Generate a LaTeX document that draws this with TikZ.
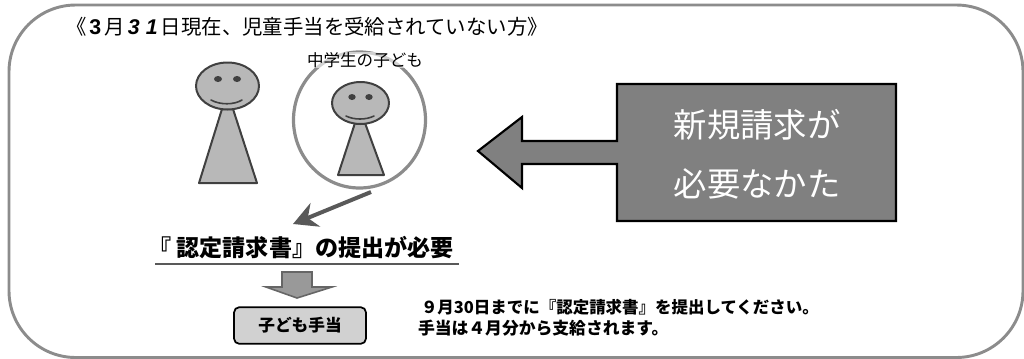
\documentclass[tikz,border=0pt]{standalone}
\usepackage{fontspec}
\setmainfont{Noto Sans CJK JP}
\newfontfamily\latinbi{Liberation Sans}
\usetikzlibrary{arrows.meta,shapes.geometric}
\newcommand{\wide}[1]{\makebox[13.5pt][c]{\latinbi\bfseries\itshape\fontsize{16}{16}\selectfont #1}}
\newcommand{\wideup}[1]{\makebox[13.5pt][c]{\latinbi\bfseries\fontsize{16}{16}\selectfont #1}}
\tikzset{
  x=0.75pt,y=-0.75pt,
  txt/.style={inner sep=0pt,outer sep=0pt,text=black,align=center},
  figure/.style={draw=black!75,fill=black!28,line width=1.5pt,line join=round},
  facemark/.style={draw=black!75,line width=1.2pt,line cap=round},
  eye/.style={fill=black!75,draw=none},
}
\begin{document}
\begin{tikzpicture}
\useasboundingbox (0,0) rectangle (1024,358);
% frame
\draw[black!45,line width=2.2pt,rounded corners=50pt] (9,5) rectangle (1023,357.5);
\node[txt,anchor=west] (title) at (66,27) {\fontsize{15.3}{15.3}\selectfont 《\wideup{3}月\wide{3}\wide{1}日現在、児童手当を受給されていない方》};
% adult
\draw[figure] (222,109) -- (199,183) -- (257,183) -- (233,109) -- cycle;
\draw[figure] (227.5,86) ellipse [x radius=31.5,y radius=23.5];
\fill[eye] (218,79) ellipse [x radius=4,y radius=3];
\fill[eye] (237,79) ellipse [x radius=4,y radius=3];
\draw[facemark] (211,100) .. controls (220,105) and (234,105) .. (242,100);
% child
\draw[figure] (355,123) -- (338,175) -- (384,175) -- (365,123) -- cycle;
\draw[figure] (360.5,103) ellipse [x radius=28.5,y radius=21];
\fill[eye] (352,97) ellipse [x radius=3.7,y radius=3];
\fill[eye] (369,97) ellipse [x radius=3.7,y radius=3];
\draw[facemark] (346,116) .. controls (354,120) and (366,120) .. (374,116);
% circle
\node[draw=black!45,line width=2.4pt,ellipse,minimum width=99pt,minimum height=102pt,inner sep=0pt] (ring) at (359.5,120) {};
\node[txt,anchor=center,fill=white,fill opacity=0.6,text opacity=1,minimum height=9pt] (childlabel) at (365,60) {\fontsize{12.4}{12.4}\selectfont 中学生の子ども};
% big arrow box
\draw[fill=black!50,draw=black,line width=1.6pt,line join=miter]
  (617,84) -- (896,84) -- (896,221) -- (617,221) -- (617,164) -- (522,164) -- (522,188) -- (478,151) -- (522,117) -- (522,141) -- (617,141) -- cycle;
\node[txt,text=white] (need1) at (757,125) {\fontsize{25}{25}\selectfont 新規請求が};
\node[txt,text=white] (need2) at (757,184) {\fontsize{25}{25}\selectfont 必要なかた};
% heading
\coordinate (ptrstart) at (371,192);
\coordinate (ptrend) at (293,224);
\draw[black!65,line width=3pt,-{Stealth[length=18pt,width=19pt,inset=6pt]}] (ptrstart) -- (ptrend);
\node[txt] (head) at (301,248) {\fontsize{17.3}{17.3}\selectfont\bfseries 『 認定請求書』の提出が必要};
\coordinate (ula) at (155,264);
\coordinate (ulb) at (459,264);
\draw[black!65,line width=1.6pt] (ula) -- (ulb);
% down arrow
\draw[fill=black!40,draw=black!60,line width=1.2pt,line join=miter]
  (282,272) -- (312,272) -- (312,287) -- (332,287) -- (297,298) -- (266,287) -- (282,287) -- cycle;
\node[draw=black,fill=black!18,line width=1.3pt,rounded corners=4pt,minimum width=99pt,minimum height=27.5pt,inner sep=0pt] (kodomo) at (300,325.5) {\fontsize{12.5}{12.5}\selectfont\bfseries 子ども手当};
% notes
\node[txt,anchor=west] (note1) at (421,307) {\fontsize{12.35}{12.35}\selectfont\bfseries ９月30日までに『認定請求書』を提出してください。};
\node[txt,anchor=west] (note2) at (418,328) {\fontsize{12.6}{12.6}\selectfont\bfseries 手当は４月分から支給されます。};
\end{tikzpicture}
\end{document}
